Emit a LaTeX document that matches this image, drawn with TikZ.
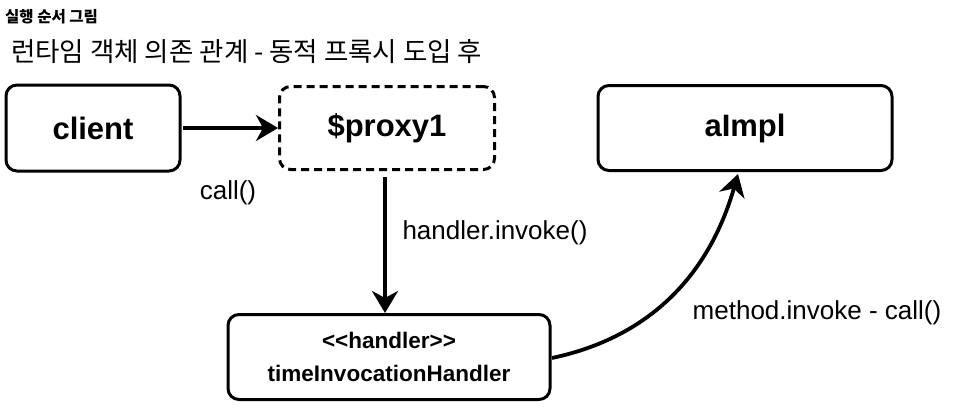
\documentclass[tikz,border=0pt]{standalone}
\usepackage{fontspec}
\setmainfont{Liberation Sans}
\newfontfamily\kr{Noto Sans CJK KR}
\usepackage{tikz}
\usetikzlibrary{arrows.meta}

\begin{document}
\begin{tikzpicture}[x=1pt, y=-1pt,
	box/.style={draw, line width=3pt, rounded corners=11pt, inner sep=0pt,
		font=\fontsize{31}{36}\selectfont\bfseries},
	proxybox/.style={box, dash pattern=on 8pt off 5pt},
	call/.style={-{Stealth[length=22pt,width=26pt,inset=7pt]}, line width=3.8pt},
	lbl/.style={font=\fontsize{26}{30}\selectfont}]
	\useasboundingbox (0,0) rectangle (955,407);
	
	%---------------- TITLES ----------------
	\node[anchor=west, inner sep=0pt, font=\kr\bfseries\fontsize{15.5}{19}\selectfont] (title) at (5,17) {실행 순서 그림};
	\node[anchor=west, inner sep=0pt, font=\kr\fontsize{26.5}{30}\selectfont] (subtitle) at (11,52) {런타임 객체 의존 관계 - 동적 프록시 도입 후};
	
	%---------------- OBJECTS ----------------
	\node[box, minimum width=174pt, minimum height=86pt] (client) at (93,128) {client};
	\node[proxybox, minimum width=215pt, minimum height=83pt] (proxy) at (387,128) {\$proxy1};
	\node[box, minimum width=294pt, minimum height=85pt] (aimpl) at (745,128) {aImpl};
	\node[box, minimum width=322pt, minimum height=85pt, align=center,
		font=\fontsize{22.5}{33}\selectfont\bfseries] (handler) at (389,357)
		{{<}{<}handler{>}{>}\\timeInvocationHandler};
	
	% arrow end points
	\coordinate (c1) at (183,128);
	\coordinate (p1) at (385,177);
	\coordinate (h1) at (552,358);
	\coordinate (a1) at (738,174);
	
	%---------------- CALLS ----------------
	\draw[call] (c1) -- (proxy.west);
	\draw[call] (p1) -- (p1 |- handler.north);
	\draw[call] (h1) to[out=12, in=-106] (a1);
	
	% labels
	\node[lbl] (l1) at (228,193) {call()};
	\node[lbl] (l2) at (495,233) {handler.invoke()};
	\node[lbl] (l3) at (817,313) {method.invoke - call()};
\end{tikzpicture}
\end{document}
